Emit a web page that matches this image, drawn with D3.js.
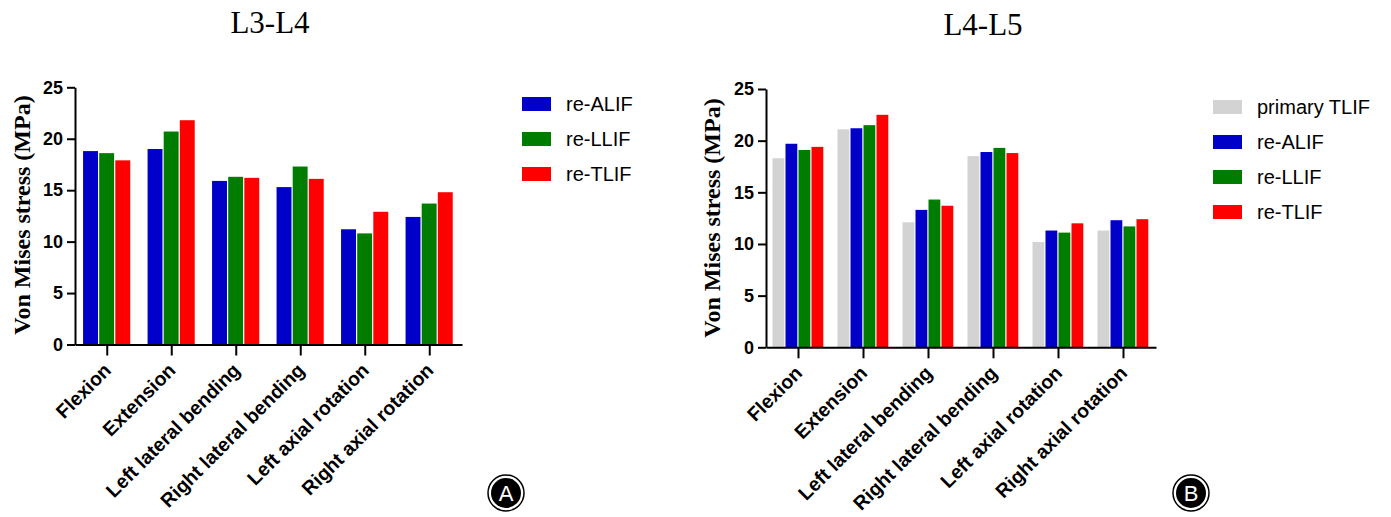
<!DOCTYPE html>
<html>
<head>
<meta charset="utf-8">
<script src="https://cdn.jsdelivr.net/npm/d3@7"></script>
<style>
  body { margin: 0; background: #fff; }
  svg { display: block; }
</style>
</head>
<body>
<div id="chart"></div>
<script>
// motions on the x axis
var categories = ["Flexion", "Extension", "Left lateral bending", "Right lateral bending",
  "Left axial rotation", "Right axial rotation"];
var yTicks = [0, 5, 10, 15, 20, 25];

// L3-L4 panel
var l34Series = ["re-ALIF", "re-LLIF", "re-TLIF"];
var l34ReALIF = [18.8, 19.0, 15.9, 15.3, 11.2, 12.4];
var l34ReLLIF = [18.6, 20.7, 16.3, 17.3, 10.8, 13.7];
var l34ReTLIF = [17.9, 21.8, 16.2, 16.1, 12.9, 14.8];

// L4-L5 panel
var l45Series = ["primary TLIF", "re-ALIF", "re-LLIF", "re-TLIF"];
var l45PrimaryTLIF = [18.3, 21.1, 12.1, 18.5, 10.2, 11.3];
var l45ReALIF = [19.7, 21.2, 13.3, 18.9, 11.3, 12.3];
var l45ReLLIF = [19.1, 21.5, 14.3, 19.3, 11.1, 11.7];
var l45ReTLIF = [19.4, 22.5, 13.7, 18.8, 12.0, 12.4];

var colors = {
  "primary TLIF": "#d3d3d3",
  "re-ALIF": "#0000c8",
  "re-LLIF": "#007d00",
  "re-TLIF": "#ff0000"
};

var width = 1391;
var height = 517;

var svg = d3.select("#chart")
  .append("svg")
  .attr("width", width)
  .attr("height", height);

function drawPanel(p) {
  var g = svg.append("g");

  var rows = categories.map(function (c, i) {
    var r = { cat: c };
    p.series.forEach(function (s, j) { r[s] = p.values[j][i]; });
    return r;
  });

  var y = d3.scaleLinear().domain([0, 25]).range([p.y0, p.y25]);

  var x0 = d3.scaleBand()
    .domain(categories)
    .range([p.left, p.right])
    .paddingInner(p.pad)
    .paddingOuter(p.pad / 2);

  var x1 = d3.scaleBand()
    .domain(p.series)
    .range([0, x0.bandwidth()]);

  // bars
  g.selectAll("g.grp")
    .data(rows)
    .enter()
    .append("g")
    .attr("class", "grp")
    .attr("transform", function (d) { return "translate(" + x0(d.cat) + ",0)"; })
    .selectAll("rect")
    .data(function (d) { return p.series.map(function (s) { return { s: s, v: d[s] }; }); })
    .enter()
    .append("rect")
    .attr("x", function (d) { return x1(d.s); })
    .attr("y", function (d) { return y(d.v); })
    .attr("width", x1.bandwidth() - 1.2)
    .attr("height", function (d) { return y(0) - y(d.v); })
    .attr("fill", function (d) { return colors[d.s]; });

  // y axis
  var yAxis = g.append("g")
    .attr("transform", "translate(" + p.left + ",0)")
    .call(d3.axisLeft(y).tickValues(yTicks).tickSize(8).tickSizeOuter(0).tickPadding(4));
  yAxis.selectAll("path, line").attr("stroke", "#000").attr("stroke-width", 2);
  yAxis.selectAll("text")
    .attr("fill", "#000")
    .style("font-family", "Liberation Sans, Arial, sans-serif")
    .style("font-weight", "bold")
    .style("font-size", "18px");

  // x axis
  var xAxis = g.append("g")
    .attr("transform", "translate(0," + p.y0 + ")")
    .call(d3.axisBottom(x0).tickSize(11).tickSizeOuter(0));
  xAxis.selectAll("path, line").attr("stroke", "#000").attr("stroke-width", 2);
  xAxis.selectAll("text")
    .attr("y", null)
    .attr("dy", null)
    .attr("fill", "#000")
    .attr("text-anchor", "end")
    .attr("transform", "translate(5,27) rotate(-45)")
    .style("font-family", "Liberation Sans, Arial, sans-serif")
    .style("font-weight", "bold")
    .style("font-size", "19.5px");

  // y label
  svg.append("text")
    .attr("transform", "translate(" + p.ylabX + "," + p.ylabY + ") rotate(-90)")
    .attr("text-anchor", "middle")
    .attr("dy", "0.35em")
    .style("font-family", "Liberation Serif, Times New Roman, serif")
    .style("font-weight", "bold")
    .style("font-size", "24px")
    .text("Von Mises stress (MPa)");

  // title
  svg.append("text")
    .attr("x", p.titleX)
    .attr("y", p.titleY)
    .attr("text-anchor", "middle")
    .style("font-family", "Liberation Serif, Times New Roman, serif")
    .style("font-size", "31px")
    .text(p.title);

  // legend
  var leg = svg.append("g")
    .selectAll("g")
    .data(p.series)
    .enter()
    .append("g")
    .attr("transform", function (d, i) { return "translate(" + p.legX + "," + (p.legY + i * 35) + ")"; });
  leg.append("rect")
    .attr("x", 0)
    .attr("y", -7)
    .attr("width", 29)
    .attr("height", 14)
    .attr("fill", function (d) { return colors[d]; });
  leg.append("text")
    .attr("x", 44)
    .attr("dy", "0.36em")
    .style("font-family", "Liberation Sans, Arial, sans-serif")
    .style("font-size", "20px")
    .text(function (d) { return d; });

  // panel letter badge
  var b = svg.append("g").attr("transform", "translate(" + p.badgeX + "," + p.badgeY + ")");
  b.append("circle").attr("r", 18).attr("fill", "none").attr("stroke", "#000").attr("stroke-width", 1.5);
  b.append("circle").attr("r", 15).attr("fill", "#000");
  b.append("text")
    .attr("text-anchor", "middle")
    .attr("dy", "0.36em")
    .attr("fill", "#fff")
    .style("font-family", "Liberation Sans, Arial, sans-serif")
    .style("font-size", "22px")
    .text(p.badge);
}

drawPanel({
  title: "L3-L4", titleX: 270, titleY: 33,
  series: l34Series, values: [l34ReALIF, l34ReLLIF, l34ReTLIF],
  left: 75, right: 462, pad: 0.25, y0: 344.5, y25: 87.3,
  ylabX: 22, ylabY: 215,
  legX: 522, legY: 104,
  badge: "A", badgeX: 506, badgeY: 493
});

drawPanel({
  title: "L4-L5", titleX: 983, titleY: 35,
  series: l45Series, values: [l45PrimaryTLIF, l45ReALIF, l45ReLLIF, l45ReTLIF],
  left: 766, right: 1156, pad: 0.2, y0: 347.3, y25: 89,
  ylabX: 712, ylabY: 218,
  legX: 1213, legY: 107,
  badge: "B", badgeX: 1191, badgeY: 493
});
</script>
</body>
</html>
